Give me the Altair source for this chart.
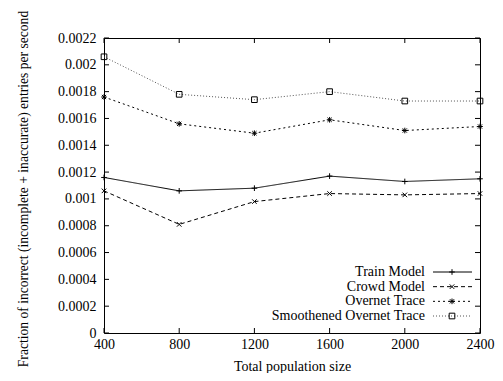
import altair as alt
import pandas as pd

names = ["Train Model", "Crowd Model", "Overnet Trace", "Smoothened Overnet Trace"]
pop = [400, 800, 1200, 1600, 2000, 2400]
train = [0.00116, 0.00106, 0.00108, 0.00117, 0.00113, 0.00115]
crowd = [0.00106, 0.00081, 0.00098, 0.00104, 0.00103, 0.00104]
overnet = [0.00176, 0.00156, 0.00149, 0.00159, 0.00151, 0.00154]
smooth = [0.00206, 0.00178, 0.00174, 0.00180, 0.00173, 0.00173]
ytick_vals = [round(k * 0.0002, 4) for k in range(12)]
xtick_vals = [400, 800, 1200, 1600, 2000, 2400]

rows = []
for name, vals in zip(names, [train, crowd, overnet, smooth]):
    for p, v in zip(pop, vals):
        rows.append({"series": name, "pop": p, "val": v})
df = pd.DataFrame(rows)

W, H = 376, 295
FONT = "Liberation Serif, Times New Roman, Times, serif"
PLUS = "M-1,0L1,0M0,-1L0,1"
CROSS = "M-0.8,-0.8L0.8,0.8M-0.8,0.8L0.8,-0.8"
STAR = "M-1,0L1,0M0,-1L0,1M-0.75,-0.75L0.75,0.75M-0.75,0.75L0.75,-0.75"

xscale = alt.Scale(domain=[400, 2400], nice=False, zero=False)
yscale = alt.Scale(domain=[0, 0.0022], nice=False)
dash_scale = alt.Scale(domain=names, range=[[1, 0], [4, 3], [2, 3], [1, 2]])
shape_scale = alt.Scale(domain=names, range=[PLUS, CROSS, STAR, "square"])
color_scale = alt.Scale(domain=names, range=["#000000", "#000000", "#000000", "#555555"])

x_axis = alt.Axis(values=xtick_vals, format="d", ticks=False, domain=False, grid=False,
                  labelPadding=4, labelFlush=False, title="Total population size",
                  titleY=37, titleBaseline="alphabetic", labelFont=FONT, titleFont=FONT)
y_axis = alt.Axis(values=ytick_vals, format=".4~f", ticks=False, domain=False, grid=False,
                  labelPadding=8, labelFlush=False, labelFont=FONT, titleFont=FONT,
                  title="Fraction of incorrect (incomplete + inaccurate) entries per second",
                  titleX=-77, titleY=H / 2 + 3, titleAngle=-90, titleAlign="center",
                  titleBaseline="alphabetic", titleFontSize=13.6)

base = alt.Chart(df)
lines = base.mark_line(strokeWidth=1).encode(
    x=alt.X("pop:Q", scale=xscale, axis=x_axis),
    y=alt.Y("val:Q", scale=yscale, axis=y_axis),
    strokeDash=alt.StrokeDash("series:N", scale=dash_scale, legend=None),
    color=alt.Color("series:N", scale=color_scale, legend=None),
    detail="series:N",
)
points = base.mark_point(filled=False, size=32, strokeWidth=1, opacity=1,
                         color="black").encode(
    x=alt.X("pop:Q", scale=xscale, axis=x_axis),
    y=alt.Y("val:Q", scale=yscale, axis=None),
    shape=alt.Shape("series:N", scale=shape_scale, legend=None),
)

ytk = pd.DataFrame({"v": ytick_vals})
xtk = pd.DataFrame({"pop": xtick_vals})
left_ticks = alt.Chart(ytk).mark_rule(color="black", strokeWidth=1).encode(
    y=alt.Y("v:Q", scale=yscale, axis=None), x=alt.value(0), x2=alt.value(5))
right_ticks = alt.Chart(ytk).mark_rule(color="black", strokeWidth=1).encode(
    y=alt.Y("v:Q", scale=yscale, axis=None), x=alt.value(W - 5), x2=alt.value(W))
bottom_ticks = alt.Chart(xtk).mark_rule(color="black", strokeWidth=1).encode(
    x=alt.X("pop:Q", scale=xscale, axis=x_axis), y=alt.value(H - 5), y2=alt.value(H))
top_ticks = alt.Chart(xtk).mark_rule(color="black", strokeWidth=1).encode(
    x=alt.X("pop:Q", scale=xscale, axis=x_axis), y=alt.value(0), y2=alt.value(5))

leg = pd.DataFrame({"series": names})
ly = alt.Y("series:N", sort=names,
           scale=alt.Scale(type="point", domain=names, range=[234, 278], padding=0),
           axis=None)
leg_text = alt.Chart(leg).mark_text(align="right", baseline="middle", font=FONT,
                                    fontSize=14, color="black").encode(
    y=ly, x=alt.value(321), text="series:N")
leg_rule = alt.Chart(leg).mark_rule(strokeWidth=1).encode(
    y=ly, x=alt.value(329), x2=alt.value(368),
    strokeDash=alt.StrokeDash("series:N", scale=dash_scale, legend=None),
    color=alt.Color("series:N", scale=color_scale, legend=None))
leg_pt = alt.Chart(leg).mark_point(filled=False, size=32, strokeWidth=1, opacity=1,
                                   color="black").encode(
    y=ly, x=alt.value(348),
    shape=alt.Shape("series:N", scale=shape_scale, legend=None))

chart = alt.layer(
    lines, points, left_ticks, right_ticks, bottom_ticks, top_ticks,
    leg_text, leg_rule, leg_pt,
).resolve_scale(y="independent").properties(
    width=W, height=H,
    autosize=alt.AutoSizeParams(type="none"),
    padding={"left": 96, "top": 30, "right": 15, "bottom": 40},
    background="white",
).configure_view(stroke="black", strokeWidth=1).configure_axis(
    labelFont=FONT, labelFontSize=14, labelColor="black",
    titleFont=FONT, titleFontSize=14, titleFontWeight="normal", titleColor="black",
).configure_text(font=FONT)

chart.save("out.html", embed_options={"renderer": "svg", "actions": False})
